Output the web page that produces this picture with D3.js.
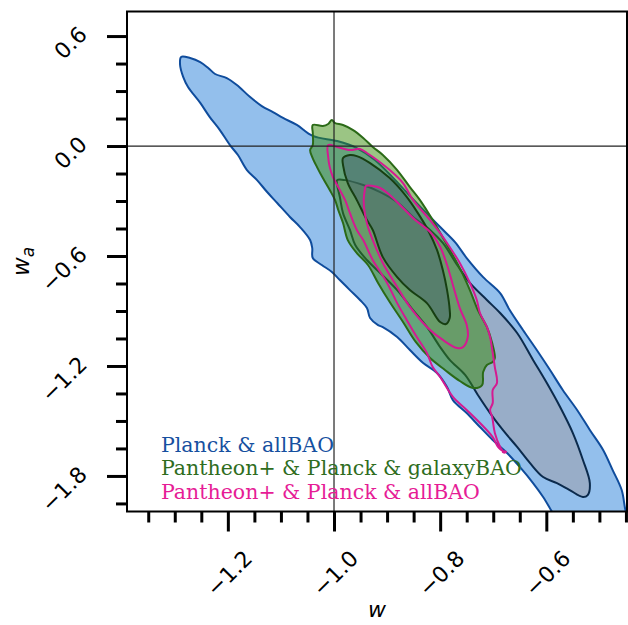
<!DOCTYPE html>
<html><head><meta charset="utf-8">
<script src="https://cdn.jsdelivr.net/npm/d3@7"></script>
<style>body{margin:0;background:#fff}svg{display:block}</style>
</head><body>
<svg id="chart" width="628" height="625"></svg>
<script>
// ---- data (w, wa) ----
const planckAllBAO95 = [[-1.288,0.486],[-1.290,0.442],[-1.284,0.376],[-1.275,0.322],[-1.252,0.235],[-1.234,0.158],[-1.215,0.087],[-1.196,0.005],[-1.181,-0.049],[-1.164,-0.131],[-1.145,-0.186],[-1.126,-0.251],[-1.107,-0.311],[-1.083,-0.387],[-1.064,-0.442],[-1.045,-0.513],[-1.041,-0.557],[-1.040,-0.611],[-1.023,-0.649],[-1.004,-0.687],[-0.989,-0.731],[-0.970,-0.786],[-0.951,-0.840],[-0.938,-0.884],[-0.932,-0.938],[-0.917,-0.977],[-0.908,-0.988],[-0.881,-1.042],[-0.857,-1.113],[-0.832,-1.184],[-0.806,-1.238],[-0.787,-1.315],[-0.776,-1.386],[-0.750,-1.457],[-0.725,-1.533],[-0.701,-1.604],[-0.674,-1.675],[-0.650,-1.751],[-0.625,-1.839],[-0.606,-1.915],[-0.589,-1.997],[-0.571,-2.084],[-0.50,-2.12],[-0.43,-2.09],[-0.443,-2.04],[-0.450,-1.997],[-0.458,-1.877],[-0.475,-1.768],[-0.493,-1.658],[-0.518,-1.549],[-0.542,-1.440],[-0.569,-1.331],[-0.593,-1.222],[-0.618,-1.113],[-0.644,-1.004],[-0.669,-0.895],[-0.687,-0.802],[-0.719,-0.715],[-0.750,-0.611],[-0.772,-0.524],[-0.800,-0.442],[-0.853,-0.284],[-0.885,-0.185],[-0.923,-0.076],[-0.957,-0.011],[-0.994,0.027],[-1.040,0.055],[-1.070,0.115],[-1.096,0.153],[-1.115,0.185],[-1.136,0.218],[-1.158,0.267],[-1.183,0.333],[-1.202,0.371],[-1.224,0.393],[-1.237,0.426],[-1.252,0.458],[-1.271,0.480]];
const planckAllBAO68 = [[-0.994,-0.186],[-0.979,-0.186],[-0.945,-0.213],[-0.913,-0.251],[-0.881,-0.306],[-0.851,-0.387],[-0.819,-0.458],[-0.795,-0.529],[-0.768,-0.649],[-0.744,-0.747],[-0.712,-0.840],[-0.687,-0.911],[-0.655,-1.020],[-0.625,-1.167],[-0.599,-1.293],[-0.574,-1.424],[-0.550,-1.566],[-0.531,-1.713],[-0.518,-1.839],[-0.522,-1.904],[-0.531,-1.915],[-0.556,-1.877],[-0.580,-1.839],[-0.606,-1.806],[-0.631,-1.729],[-0.655,-1.642],[-0.682,-1.549],[-0.706,-1.457],[-0.729,-1.358],[-0.753,-1.249],[-0.782,-1.167],[-0.800,-1.097],[-0.825,-0.987],[-0.851,-0.895],[-0.881,-0.786],[-0.913,-0.693],[-0.938,-0.622],[-0.960,-0.540],[-0.970,-0.458],[-0.983,-0.366],[-0.989,-0.278],[-0.994,-0.213]];
const galaxyBAO95 = [[-1.040,0.115],[-1.021,0.109],[-1.011,0.120],[-1.004,0.142],[-0.998,0.125],[-0.983,0.115],[-0.964,0.087],[-0.945,0.044],[-0.927,-0.005],[-0.908,-0.049],[-0.881,-0.131],[-0.857,-0.224],[-0.838,-0.295],[-0.814,-0.404],[-0.787,-0.540],[-0.763,-0.666],[-0.744,-0.786],[-0.729,-0.895],[-0.712,-0.987],[-0.702,-1.075],[-0.697,-1.157],[-0.701,-1.178],[-0.712,-1.195],[-0.719,-1.233],[-0.721,-1.304],[-0.738,-1.320],[-0.763,-1.282],[-0.791,-1.222],[-0.819,-1.157],[-0.846,-1.069],[-0.870,-0.960],[-0.895,-0.851],[-0.917,-0.747],[-0.936,-0.649],[-0.957,-0.584],[-0.974,-0.513],[-0.983,-0.420],[-0.992,-0.349],[-0.998,-0.295],[-1.008,-0.240],[-1.021,-0.175],[-1.032,-0.115],[-1.041,-0.060],[-1.045,-0.022],[-1.040,0.005],[-1.040,0.071]];
const galaxyBAO68 = [[-0.983,-0.065],[-0.970,-0.049],[-0.957,-0.055],[-0.932,-0.093],[-0.895,-0.175],[-0.866,-0.267],[-0.842,-0.366],[-0.823,-0.458],[-0.806,-0.567],[-0.795,-0.676],[-0.787,-0.786],[-0.782,-0.895],[-0.782,-0.938],[-0.789,-0.971],[-0.800,-0.960],[-0.825,-0.857],[-0.857,-0.786],[-0.881,-0.715],[-0.908,-0.606],[-0.927,-0.458],[-0.938,-0.404],[-0.957,-0.295],[-0.974,-0.202],[-0.983,-0.104]];
const pantheonAllBAO95 = [[-1.011,0.005],[-0.994,-0.005],[-0.970,-0.022],[-0.951,-0.016],[-0.938,-0.038],[-0.919,-0.076],[-0.895,-0.131],[-0.870,-0.202],[-0.851,-0.295],[-0.819,-0.404],[-0.800,-0.475],[-0.782,-0.551],[-0.763,-0.638],[-0.744,-0.747],[-0.731,-0.840],[-0.725,-0.911],[-0.712,-0.987],[-0.706,-1.042],[-0.701,-1.129],[-0.697,-1.206],[-0.693,-1.293],[-0.701,-1.331],[-0.701,-1.402],[-0.706,-1.440],[-0.702,-1.478],[-0.697,-1.566],[-0.687,-1.642],[-0.682,-1.664],[-0.691,-1.642],[-0.701,-1.588],[-0.725,-1.511],[-0.750,-1.440],[-0.776,-1.369],[-0.800,-1.260],[-0.814,-1.206],[-0.825,-1.129],[-0.844,-1.042],[-0.863,-0.949],[-0.881,-0.857],[-0.900,-0.747],[-0.927,-0.622],[-0.945,-0.513],[-0.957,-0.458],[-0.970,-0.366],[-0.979,-0.295],[-0.989,-0.240],[-1.002,-0.169],[-1.008,-0.115],[-1.011,-0.060]];
const pantheonAllBAO95Island = [[-0.679,-1.665],[-0.676,-1.669],[-0.679,-1.673],[-0.682,-1.669]];
const pantheonAllBAO68 = [[-0.940,-0.218],[-0.927,-0.218],[-0.913,-0.229],[-0.895,-0.267],[-0.870,-0.338],[-0.847,-0.404],[-0.819,-0.469],[-0.800,-0.551],[-0.787,-0.649],[-0.776,-0.758],[-0.763,-0.884],[-0.750,-0.977],[-0.748,-1.042],[-0.757,-1.097],[-0.768,-1.102],[-0.795,-1.058],[-0.825,-0.987],[-0.857,-0.878],[-0.881,-0.769],[-0.908,-0.638],[-0.927,-0.513],[-0.936,-0.442],[-0.942,-0.366],[-0.944,-0.295],[-0.942,-0.240]];

const xMajorTicks = [-1.2, -1.0, -0.8, -0.6];
const xMajorLabels = ["\u22121.2", "\u22121.0", "\u22120.8", "\u22120.6"];
const xMinorTicks = [-1.35,-1.3,-1.25,-1.15,-1.1,-1.05,-0.95,-0.9,-0.85,-0.75,-0.7,-0.65,-0.55,-0.5,-0.45];
const yMajorTicks = [0.6, 0.0, -0.6, -1.2, -1.8];
const yMajorLabels = ["0.6", "0.0", "\u22120.6", "\u22121.2", "\u22121.8"];
const yMinorTicks = [0.45,0.3,0.15,-0.15,-0.3,-0.45,-0.75,-0.9,-1.05,-1.35,-1.5,-1.65,-1.95];
const legendLabels = ["Planck & allBAO", "Pantheon+ & Planck & galaxyBAO", "Pantheon+ & Planck & allBAO"];
const legendColors = ["#1650a0", "#2f6d1e", "#e61c96"];

// ---- scales ----
const L = 127, R = 627, T = 11.5, B = 511.5;
const x = d3.scaleLinear().domain([-1.39, -0.448]).range([L, R]);
const y = d3.scaleLinear().domain([-1.994, 0.734]).range([B, T]);

const svg = d3.select("#chart");
svg.append("defs").append("clipPath").attr("id","clip")
  .append("rect").attr("x",L).attr("y",T).attr("width",R-L).attr("height",B-T);

const line = d3.line().x(d=>x(d[0])).y(d=>y(d[1])).curve(d3.curveCatmullRomClosed.alpha(0.5));
const g = svg.append("g").attr("clip-path","url(#clip)");

// Planck & allBAO (filled)
g.append("path").attr("d", line(planckAllBAO95)).attr("fill","#93bfec").attr("stroke","#0f4c9c").attr("stroke-width",2);
g.append("path").attr("d", line(planckAllBAO68)).attr("fill","#98adc8").attr("stroke","#0b2a4c").attr("stroke-width",2);
// Pantheon+ & Planck & galaxyBAO (filled, translucent)
g.append("path").attr("d", line(galaxyBAO95)).attr("fill","rgb(55,140,10)").attr("fill-opacity",0.5).attr("stroke","#2b6a17").attr("stroke-width",2);
g.append("path").attr("d", line(galaxyBAO68)).attr("fill","rgb(70,98,112)").attr("fill-opacity",0.5).attr("stroke","#173f12").attr("stroke-width",2);
// Pantheon+ & Planck & allBAO (lines)
[pantheonAllBAO95, pantheonAllBAO95Island, pantheonAllBAO68].forEach(c => {
  g.append("path").attr("d", line(c)).attr("fill","none").attr("stroke","#d41a91").attr("stroke-width",2);
});

// reference lines
g.append("line").attr("x1",x(-1)).attr("x2",x(-1)).attr("y1",T).attr("y2",B).attr("stroke","#222").attr("stroke-width",1.2);
g.append("line").attr("x1",L).attr("x2",R).attr("y1",y(0)).attr("y2",y(0)).attr("stroke","#222").attr("stroke-width",1.2);

// legend
legendLabels.forEach((t,i) => {
  svg.append("text").attr("x",161).attr("y",452 + i*23.3)
    .attr("font-family","'DejaVu Serif', serif").attr("font-size",20.5)
    .attr("fill",legendColors[i]).text(t);
});

// axes
const font = "'DejaVu Sans', sans-serif";
const xAxisMinor = d3.axisBottom(x).tickValues(xMinorTicks).tickSize(11).tickFormat("");
const xAxisMajor = d3.axisBottom(x).tickValues(xMajorTicks).tickSize(20).tickFormat((d,i)=>xMajorLabels[i]);
const yAxisMinor = d3.axisLeft(y).tickValues(yMinorTicks).tickSize(11).tickFormat("");
const yAxisMajor = d3.axisLeft(y).tickValues(yMajorTicks).tickSize(20).tickFormat((d,i)=>yMajorLabels[i]);

function styleAxis(sel){
  sel.select(".domain").remove();
  sel.selectAll(".tick line").attr("stroke","#000").attr("stroke-width",3);
}
svg.append("g").attr("transform",`translate(0,${B})`).call(xAxisMinor).call(styleAxis);
const gx = svg.append("g").attr("transform",`translate(0,${B})`).call(xAxisMajor).call(styleAxis);
gx.selectAll(".tick text")
  .attr("x",null).attr("y",null).attr("dy",null)
  .attr("text-anchor","middle").attr("dominant-baseline","central")
  .attr("transform","translate(1,62) rotate(-45)")
  .attr("font-family",font).attr("font-size",22).attr("fill","#000");
svg.append("g").attr("transform",`translate(${L},0)`).call(yAxisMinor).call(styleAxis);
const gy = svg.append("g").attr("transform",`translate(${L},0)`).call(yAxisMajor).call(styleAxis);
gy.selectAll(".tick text")
  .attr("x",null).attr("y",null).attr("dy",null)
  .attr("text-anchor","end").attr("dominant-baseline","central")
  .attr("transform","translate(-44,-6) rotate(-45)")
  .attr("font-family",font).attr("font-size",22).attr("fill","#000");

// frame
svg.append("rect").attr("x",L).attr("y",T).attr("width",R-L).attr("height",B-T)
  .attr("fill","none").attr("stroke","#000").attr("stroke-width",2);

// axis labels
svg.append("text").attr("x",(L+R)/2).attr("y",617).attr("text-anchor","middle")
  .attr("font-family",font).attr("font-style","italic").attr("font-size",22).text("w");
const yl = svg.append("text").attr("transform",`translate(29,${(T+B)/2}) rotate(-90)`).attr("text-anchor","middle")
  .attr("font-family",font).attr("font-style","italic").attr("font-size",23);
yl.append("tspan").text("w");
yl.append("tspan").attr("dy",5).attr("font-size",17).text("a");
</script>
</body></html>
